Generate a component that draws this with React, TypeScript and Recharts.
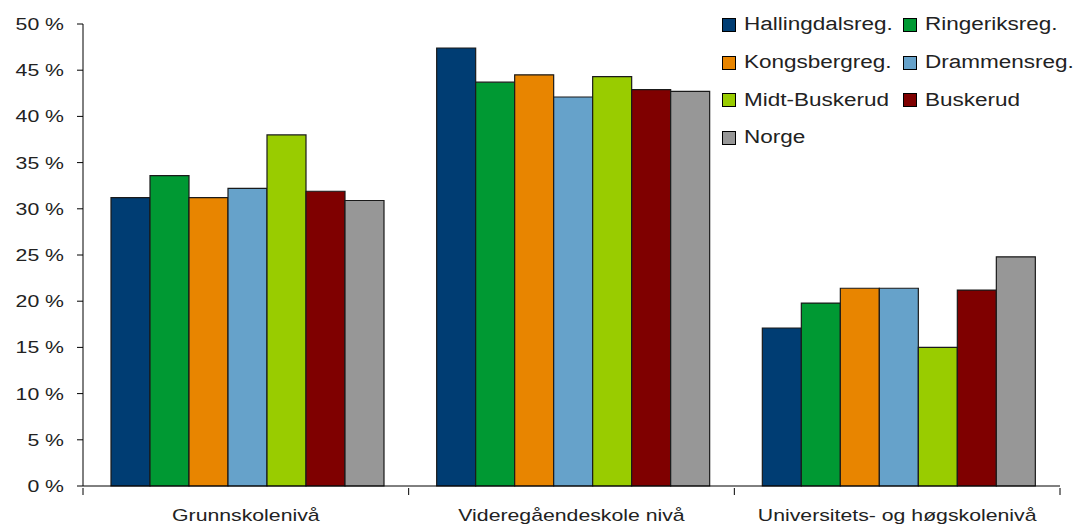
import React from 'react';
import { BarChart, Bar, XAxis, YAxis } from 'recharts';

// Utdanningsnivå per region (prosent)
const categories = ['Grunnskolenivå', 'Videregåendeskole nivå', 'Universitets- og høgskolenivå'];
const hallingdal = [31.2, 47.4, 17.1];
const ringerike = [33.6, 43.7, 19.8];
const kongsberg = [31.2, 44.5, 21.4];
const drammen = [32.2, 42.1, 21.4];
const midtBuskerud = [38.0, 44.3, 15.0];
const buskerud = [31.9, 42.9, 21.2];
const norge = [30.9, 42.7, 24.8];
const yTicks = [0, 5, 10, 15, 20, 25, 30, 35, 40, 45, 50];

const SERIES = [
  { key: 'Hallingdalsreg.', values: hallingdal, color: '#003D73' },
  { key: 'Ringeriksreg.', values: ringerike, color: '#009933' },
  { key: 'Kongsbergreg.', values: kongsberg, color: '#E88500' },
  { key: 'Drammensreg.', values: drammen, color: '#66A2CA' },
  { key: 'Midt-Buskerud', values: midtBuskerud, color: '#99CC00' },
  { key: 'Buskerud', values: buskerud, color: '#7F0000' },
  { key: 'Norge', values: norge, color: '#979797' },
];

// legend order: two columns, row by row
const LEGEND_ROWS = [
  ['Hallingdalsreg.', 'Ringeriksreg.'],
  ['Kongsbergreg.', 'Drammensreg.'],
  ['Midt-Buskerud', 'Buskerud'],
  ['Norge'],
];

const WIDTH = 1073;
const HEIGHT = 527;
const MARGIN = { top: 24, right: 13, left: 0, bottom: 11 };
const Y_AXIS_W = 83;
const BAND = (WIDTH - MARGIN.left - MARGIN.right - Y_AXIS_W) / categories.length;
const FONT = '"Liberation Sans", Arial, sans-serif';
const STRETCH = 1.25;

const data = categories.map((name, i) => {
  const row: Record<string, string | number> = { name };
  SERIES.forEach((s) => {
    row[s.key] = s.values[i];
  });
  return row;
});

function YTick({ x, y, payload }: any) {
  return (
    <g transform={`translate(${x},${y}) scale(${STRETCH},1)`}>
      <text x={0} y={0} dy="0.35em" textAnchor="end" fontSize={17} fill="#222" fontFamily={FONT}>
        {`${payload.value} %`}
      </text>
    </g>
  );
}

function XTick({ x, y, payload, index }: any) {
  const left = x - BAND / 2;
  const right = x + BAND / 2;
  return (
    <g>
      <line x1={left} x2={left} y1={y} y2={y + 7} stroke="#000" />
      {index === categories.length - 1 && (
        <line x1={right} x2={right} y1={y} y2={y + 7} stroke="#000" />
      )}
      <g transform={`translate(${x},${y + 33}) scale(${STRETCH},1)`}>
        <text x={0} y={0} textAnchor="middle" fontSize={17} fill="#222" fontFamily={FONT}>
          {payload.value}
        </text>
      </g>
    </g>
  );
}

function Legend() {
  const colorOf = (k: string) => SERIES.find((s) => s.key === k)?.color;
  return (
    <div style={{ position: 'absolute', left: 722, top: 6, fontFamily: FONT, fontSize: 18, color: '#222' }}>
      {LEGEND_ROWS.map((row, r) => (
        <div key={r} style={{ position: 'relative', height: 37.7 }}>
          {row.map((k, c) => (
            <div
              key={k}
              style={{
                position: 'absolute',
                left: c === 0 ? 0 : 181,
                top: 0,
                height: 37.7,
                display: 'flex',
                alignItems: 'center',
                whiteSpace: 'nowrap',
              }}
            >
              <span
                style={{
                  width: 12,
                  height: 12,
                  background: colorOf(k),
                  border: '1px solid #000',
                  marginRight: 8,
                  display: 'inline-block',
                }}
              />
              <span style={{ display: 'inline-block', transform: `scaleX(${STRETCH})`, transformOrigin: 'left center' }}>
                {k}
              </span>
            </div>
          ))}
        </div>
      ))}
    </div>
  );
}

export default function App() {
  return (
    <div style={{ position: 'absolute', left: 0, top: 0, width: WIDTH, height: HEIGHT, background: '#fff' }}>
      <BarChart width={WIDTH} height={HEIGHT} data={data} margin={MARGIN} barCategoryGap={28} barGap={0}>
        <XAxis
          dataKey="name"
          tick={<XTick />}
          tickLine={false}
          tickSize={0}
          axisLine={{ stroke: '#000' }}
          height={30}
          interval={0}
        />
        <YAxis
          domain={[0, 50]}
          ticks={yTicks}
          width={Y_AXIS_W}
          tick={<YTick />}
          tickSize={6}
          tickMargin={13}
          tickLine={{ stroke: '#000' }}
          axisLine={{ stroke: '#000' }}
          interval={0}
        />
        {SERIES.map((s) => (
          <Bar
            key={s.key}
            dataKey={s.key}
            fill={s.color}
            stroke="#1a1a1a"
            strokeWidth={1.2}
            isAnimationActive={false}
          />
        ))}
      </BarChart>
      <Legend />
    </div>
  );
}
